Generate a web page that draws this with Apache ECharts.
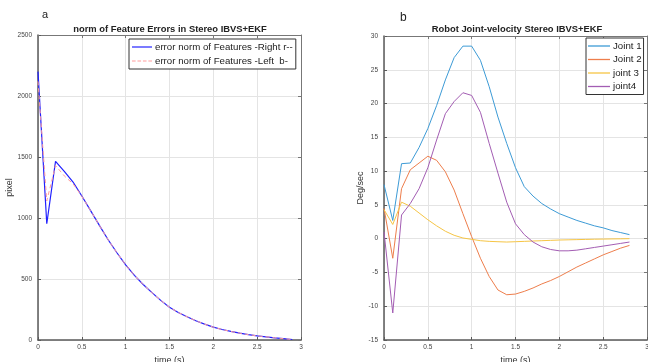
<!DOCTYPE html>
<html>
<head>
<meta charset="utf-8">
<script src="https://cdn.jsdelivr.net/npm/echarts@6/dist/echarts.min.js"></script>
<style>
  html, body { margin: 0; padding: 0; background: #fff; overflow: hidden; }
  #chart { width: 648px; height: 362px; }
</style>
</head>
<body>
<div id="chart"></div>
<script>
// ---- panel a: feature error norm (pixel) ----
const timeA = [0, 0.1, 0.2, 0.3, 0.4, 0.5, 0.6, 0.7, 0.8, 0.9, 1.0, 1.1, 1.2, 1.3, 1.4,
  1.5, 1.6, 1.7, 1.8, 1.9, 2.0, 2.1, 2.2, 2.3, 2.4, 2.5, 2.6, 2.7, 2.8, 2.9];
const errRight = [2200, 953, 1465, 1382, 1295, 1180, 1060, 940, 822, 715, 616, 530, 455, 388, 325,
  268, 226, 190, 158, 130, 105, 86, 70, 56, 44, 34, 26, 18, 11, 4];
const errLeft = [2120, 1140, 1430, 1345, 1280, 1178, 1060, 940, 822, 715, 616, 530, 455, 388, 325,
  268, 226, 190, 158, 130, 105, 86, 70, 56, 44, 34, 26, 18, 11, 4];

// ---- panel b: joint velocities (deg/sec) ----
const timeB = [0, 0.1, 0.2, 0.3, 0.4, 0.5, 0.6, 0.7, 0.8, 0.9, 1.0, 1.1, 1.2, 1.3, 1.4,
  1.5, 1.6, 1.7, 1.8, 1.9, 2.0, 2.1, 2.2, 2.3, 2.4, 2.5, 2.6, 2.7, 2.8];
const joint1 = [8.0, 2.7, 11.1, 11.2, 13.5, 16.3, 19.7, 23.5, 26.8, 28.5, 28.5, 26.4, 22.5, 18.0, 14.1,
  10.5, 7.7, 6.3, 5.2, 4.4, 3.7, 3.2, 2.7, 2.3, 1.9, 1.6, 1.2, 0.9, 0.6];
const joint2 = [4.5, -2.9, 7.4, 10.2, 11.2, 12.2, 11.6, 9.9, 7.2, 3.7, 0.3, -2.9, -5.6, -7.6, -8.3,
  -8.2, -7.8, -7.3, -6.7, -6.2, -5.6, -4.9, -4.2, -3.6, -3.0, -2.4, -1.9, -1.4, -1.0];
const joint3 = [4.3, 2.1, 5.4, 4.8, 3.8, 2.8, 1.9, 1.1, 0.5, 0.1, -0.1, -0.3, -0.4, -0.45, -0.5,
  -0.45, -0.4, -0.35, -0.3, -0.25, -0.2, -0.17, -0.14, -0.11, -0.08, -0.06, -0.04, -0.02, 0];
const joint4 = [1.0, -11.0, 3.5, 5.2, 7.4, 10.5, 14.6, 18.5, 20.3, 21.6, 21.2, 18.7, 14.1, 9.7, 5.4,
  2.2, 0.6, -0.5, -1.2, -1.6, -1.8, -1.8, -1.7, -1.5, -1.3, -1.1, -0.9, -0.7, -0.5];

const pairs = (xs, ys) => xs.map((x, i) => [x, ys[i]]);

const FONT = 'Liberation Sans, Arial, sans-serif';
const tickLabel = { fontSize: 6.5, color: '#444', fontFamily: FONT, formatter: v => String(v) };
const gridLine = { show: true, lineStyle: { color: '#e4e4e4', width: 1 } };

// legend glyphs: a thin solid stroke and a dashed stroke
const SOLID_ICON = 'path://M0,0H22V1.3H0Z';
const DASH_ICON = 'path://M0,0H4V1.2H0Z M6,0H10V1.2H6Z M12,0H16V1.2H12Z M18,0H22V1.2H18Z';

function mainX(gridIndex) {
  return {
    type: 'value', gridIndex, min: 0, max: 3, interval: 0.5,
    name: 'time (s)', nameLocation: 'middle', nameGap: 13,
    nameTextStyle: { fontSize: 9, color: '#333', fontFamily: FONT },
    axisLine: { show: true, onZero: false, lineStyle: { color: '#5a5a5a', width: 1.5 } },
    axisTick: { show: true, inside: true, length: 3, lineStyle: { color: '#5a5a5a' } },
    axisLabel: Object.assign({ margin: 4 }, tickLabel),
    splitLine: gridLine
  };
}
function boxX(gridIndex) {
  return {
    type: 'value', gridIndex, min: 0, max: 3, interval: 0.5, position: 'top',
    axisLine: { show: true, onZero: false, lineStyle: { color: '#777', width: 1 } },
    axisTick: { show: true, inside: true, length: 3, lineStyle: { color: '#777' } },
    axisLabel: { show: false }, splitLine: { show: false }
  };
}
function mainY(gridIndex, min, max, interval, name, gap) {
  return {
    type: 'value', gridIndex, min, max, interval,
    name, nameLocation: 'middle', nameGap: gap,
    nameTextStyle: { fontSize: 9, color: '#333', fontFamily: FONT },
    axisLine: { show: true, onZero: false, lineStyle: { color: '#5a5a5a', width: 1.5 } },
    axisTick: { show: true, inside: true, length: 3, lineStyle: { color: '#5a5a5a' } },
    axisLabel: Object.assign({ margin: 6 }, tickLabel),
    splitLine: gridLine
  };
}
function boxY(gridIndex, min, max, interval) {
  return {
    type: 'value', gridIndex, min, max, interval, position: 'right',
    axisLine: { show: true, onZero: false, lineStyle: { color: '#777', width: 1 } },
    axisTick: { show: true, inside: true, length: 3, lineStyle: { color: '#777' } },
    axisLabel: { show: false }, splitLine: { show: false }
  };
}

const chart = echarts.init(document.getElementById('chart'), null, { renderer: 'canvas', width: 648, height: 362 });

const lineSeries = (name, xi, yi, xs, ys, color, width, type) => ({
  name, type: 'line', xAxisIndex: xi, yAxisIndex: yi,
  data: pairs(xs, ys), showSymbol: false, symbol: 'none', animation: false,
  lineStyle: { color, width, type: type || 'solid' }, itemStyle: { color }
});

const legendText = { fontSize: 9.7, color: '#222', fontFamily: FONT, padding: [0, 0, 0, -2] };

chart.setOption({
  backgroundColor: '#fff',
  animation: false,
  grid: [
    { left: 38, top: 35, width: 263, height: 305, containLabel: false, outerBoundsMode: 'none' },
    { left: 384, top: 36, width: 263, height: 304, containLabel: false, outerBoundsMode: 'none' }
  ],
  xAxis: [mainX(0), boxX(0), mainX(1), boxX(1)],
  yAxis: [
    mainY(0, 0, 2500, 500, 'pixel', 21), boxY(0, 0, 2500, 500),
    mainY(1, -15, 30, 5, 'Deg/sec', 15), boxY(1, -15, 30, 5)
  ],
  legend: [
    {
      data: [
        { name: 'error norm of Features -Right r--', icon: SOLID_ICON },
        { name: 'error norm of Features -Left  b-', icon: DASH_ICON }
      ],
      orient: 'vertical', left: 129, top: 39,
      itemWidth: 20, itemHeight: 9, itemGap: 4,
      padding: [3, 3, 3, 3],
      borderColor: '#333', borderWidth: 1, backgroundColor: '#fff',
      textStyle: legendText
    },
    {
      data: ['Joint 1', 'Joint 2', 'joint 3', 'joint4'].map(n => ({ name: n, icon: SOLID_ICON })),
      orient: 'vertical', left: 586, top: 38,
      itemWidth: 22, itemHeight: 9, itemGap: 3.5,
      padding: [3, 2, 3, 2],
      borderColor: '#333', borderWidth: 1, backgroundColor: '#fff',
      textStyle: legendText
    }
  ],
  graphic: [
    { type: 'text', left: 42, top: 9, style: { text: 'a', fontSize: 11, fill: '#222', fontFamily: FONT } },
    { type: 'text', x: 170, y: 29, style: { text: 'norm of Feature Errors in Stereo IBVS+EKF',
      fontSize: 9.4, fontWeight: 'bold', fill: '#222', fontFamily: FONT, textAlign: 'center', textVerticalAlign: 'middle' } },
    { type: 'text', left: 400, top: 12, style: { text: 'b', fontSize: 12, fill: '#222', fontFamily: FONT } },
    { type: 'text', x: 517, y: 29, style: { text: 'Robot Joint-velocity Stereo IBVS+EKF',
      fontSize: 9.4, fontWeight: 'bold', fill: '#222', fontFamily: FONT, textAlign: 'center', textVerticalAlign: 'middle' } }
  ],
  series: [
    lineSeries('error norm of Features -Right r--', 0, 0, timeA, errRight, '#2020ff', 1.2),
    lineSeries('error norm of Features -Left  b-', 0, 0, timeA, errLeft, '#ff9c9c', 1, [4, 3]),
    lineSeries('Joint 1', 2, 2, timeB, joint1, '#3d9bd6', 1),
    lineSeries('Joint 2', 2, 2, timeB, joint2, '#ee7e4c', 1),
    lineSeries('joint 3', 2, 2, timeB, joint3, '#f6c545', 1),
    lineSeries('joint4', 2, 2, timeB, joint4, '#a35db3', 1)
  ]
});
</script>
</body>
</html>
